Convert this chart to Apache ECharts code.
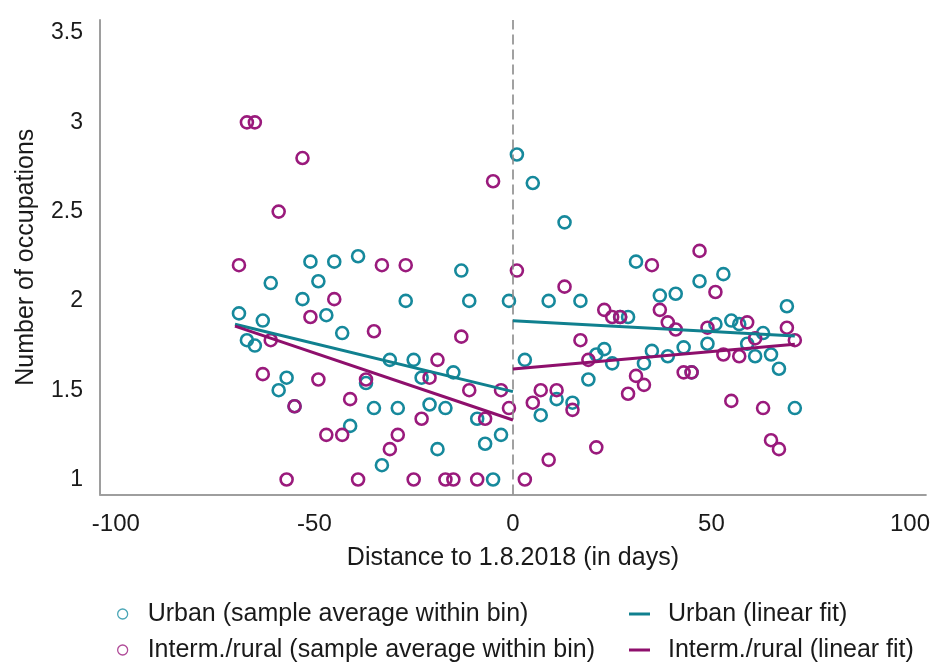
<!DOCTYPE html>
<html>
<head>
<meta charset="utf-8">
<title>Number of occupations around 1.8.2018</title>
<script src="https://cdn.jsdelivr.net/npm/echarts@6/dist/echarts.min.js"></script>
<style>
  html, body { margin: 0; padding: 0; background: #ffffff; }
  #chart { width: 933px; height: 664px; }
</style>
</head>
<body>
<div id="chart"></div>
<script>
// Bin centres (days relative to 1.8.2018)
const daysBefore = [-69, -67, -65, -63, -61, -59, -57, -55, -53, -51, -49, -47, -45, -43, -41, -39, -37, -35,
                    -33, -31, -29, -27, -25, -23, -21, -19, -17, -15, -13, -11, -9, -7, -5, -3, -1];
const daysAfter = [1, 3, 5, 7, 9, 11, 13, 15, 17, 19, 21, 23, 25, 27, 29, 31, 33, 35,
                   37, 39, 41, 43, 45, 47, 49, 51, 53, 55, 57, 59, 61, 63, 65, 67, 69, 71];

// Sample averages within bin, urban
const urbanBefore = [1.93, 1.78, 1.75, 1.89, 2.10, 1.50, 1.57, 1.41, 2.01, 2.22, 2.11, 1.92, 2.22, 1.82, 1.30, 2.25, 1.54, 1.40,
                     1.08, 1.67, 1.40, 2.00, 1.67, 1.57, 1.42, 1.17, 1.40, 1.60, 2.17, 2.00, 1.34, 1.20, 1.00, 1.25, 2.00];
const urbanAfter = [2.82, 1.67, 2.66, 1.36, 2.00, 1.45, 2.44, 1.43, 2.00, 1.56, 1.70, 1.73, 1.65, 1.91, 1.91, 2.22, 1.65, 1.72,
                    2.03, 1.69, 2.04, 1.74, 1.60, 2.11, 1.76, 1.87, 2.15, 1.89, 1.87, 1.76, 1.69, 1.82, 1.70, 1.62, 1.97, 1.40];

// Sample averages within bin, intermediate / rural
const ruralBefore = [2.20, 3.00, 3.00, 1.59, 1.78, 2.50, 1.00, 1.41, 2.80, 1.91, 1.56, 1.25, 2.01, 1.25, 1.45, 1.00, 1.56, 1.83,
                     2.20, 1.17, 1.25, 2.20, 1.00, 1.34, 1.57, 1.67, 1.00, 1.00, 1.80, 1.50, 1.00, 1.34, 2.67, 1.50, 1.40];
const ruralAfter = [2.17, 1.00, 1.43, 1.50, 1.11, 1.50, 2.08, 1.39, 1.78, 1.67, 1.18, 1.95, 1.91, 1.91, 1.48, 1.58, 1.53, 2.20,
                    1.95, 1.88, 1.84, 1.60, 1.60, 2.28, 1.85, 2.05, 1.70, 1.44, 1.69, 1.88, 1.79, 1.40, 1.22, 1.17, 1.85, 1.78];

// Linear fits on each side of the cut-off: end points [day, value]
const fitDaysBefore = [-70, 0];
const fitDaysAfter = [0, 71];
const urbanFitBefore = [1.869, 1.492];
const urbanFitAfter = [1.889, 1.803];
const ruralFitBefore = [1.859, 1.333];
const ruralFitAfter = [1.619, 1.757];

// Axis tick labels
const xTicks = [-100, -50, 0, 50, 100];
const yTicks = [1, 1.5, 2, 2.5, 3, 3.5];

const NAME_URBAN_PTS = 'Urban (sample average within bin)';
const NAME_RURAL_PTS = 'Interm./rural (sample average within bin)';
const NAME_URBAN_FIT = 'Urban (linear fit)';
const NAME_RURAL_FIT = 'Interm./rural (linear fit)';

const TEAL = '#16899c';
const TEAL_LINE = '#10808f';
const PURPLE = '#9a1a7c';
const PURPLE_LINE = '#8e0f6c';
const FONT = "'Liberation Sans', Arial, sans-serif";
const TEXT = '#1a1a1a';

const zip = (xs, ys) => xs.map((x, i) => [x, ys[i]]);

// hollow markers: white fill, coloured ring
const scatterSeries = (name, color, data, z) => ({
  name: name,
  type: 'scatter',
  data: data,
  z: z,
  symbol: 'circle',
  symbolSize: 12,
  itemStyle: { color: 'rgba(255,255,255,0)', borderColor: color, borderWidth: 2.6, opacity: 1 },
  emphasis: { disabled: true }
});

const fitLine = (name, color, data) => ({
  name: name,
  type: 'line',
  data: data,
  symbol: 'none',
  lineStyle: { color: color, width: 3 },
  itemStyle: { color: color },
  z: 5,
  silent: true
});

const chart = echarts.init(document.getElementById('chart'), null, { renderer: 'canvas' });

chart.setOption({
  animation: false,
  backgroundColor: '#ffffff',
  textStyle: { fontFamily: FONT },
  grid: { left: 100, right: 5, top: 20, bottom: 169.5, containLabel: false },
  xAxis: {
    type: 'value',
    min: -104,
    max: 104,
    name: 'Distance to 1.8.2018 (in days)',
    nameLocation: 'middle',
    nameGap: 51,
    nameTextStyle: { fontFamily: FONT, fontSize: 25, color: TEXT },
    axisLine: { show: true, onZero: false, lineStyle: { color: '#9e9e9e', width: 2 } },
    axisTick: { show: false },
    splitLine: { show: false },
    axisLabel: {
      customValues: xTicks,
      fontFamily: FONT, fontSize: 24, color: TEXT, margin: 18
    }
  },
  yAxis: {
    type: 'value',
    min: 0.916,
    max: 3.573,
    name: 'Number of occupations',
    nameLocation: 'middle',
    nameGap: 61,
    nameTextStyle: { fontFamily: FONT, fontSize: 25, color: TEXT },
    axisLine: { show: true, onZero: false, lineStyle: { color: '#9e9e9e', width: 2 } },
    axisTick: { show: false },
    splitLine: { show: false },
    axisLabel: {
      customValues: yTicks,
      fontFamily: FONT, fontSize: 23, color: TEXT, margin: 17
    }
  },
  legend: [
    {
      orient: 'vertical',
      left: 117,
      top: 601,
      itemWidth: 10,
      itemHeight: 10,
      itemGap: 10,
      padding: 0,
      textStyle: { fontFamily: FONT, fontSize: 25, color: TEXT, lineHeight: 26, padding: [0, 0, 0, 15] },
      selectedMode: false,
      data: [
        { name: NAME_URBAN_PTS, icon: 'circle', itemStyle: { color: 'rgba(255,255,255,0)', borderColor: '#4aa6b6', borderWidth: 1.3 } },
        { name: NAME_RURAL_PTS, icon: 'circle', itemStyle: { color: 'rgba(255,255,255,0)', borderColor: '#b04b98', borderWidth: 1.3 } }
      ]
    },
    {
      orient: 'vertical',
      left: 629,
      top: 601,
      itemWidth: 21,
      itemHeight: 3,
      itemGap: 10,
      padding: 0,
      textStyle: { fontFamily: FONT, fontSize: 25, color: TEXT, lineHeight: 26, padding: [0, 0, 0, 13] },
      selectedMode: false,
      data: [
        { name: NAME_URBAN_FIT, icon: 'rect' },
        { name: NAME_RURAL_FIT, icon: 'rect' }
      ]
    }
  ],
  series: [
    scatterSeries(NAME_URBAN_PTS, TEAL, zip(daysBefore, urbanBefore).concat(zip(daysAfter, urbanAfter)), 2),
    scatterSeries(NAME_RURAL_PTS, PURPLE, zip(daysBefore, ruralBefore).concat(zip(daysAfter, ruralAfter)), 3),
    fitLine(NAME_URBAN_FIT, TEAL_LINE, zip(fitDaysBefore, urbanFitBefore)),
    fitLine(NAME_URBAN_FIT, TEAL_LINE, zip(fitDaysAfter, urbanFitAfter)),
    fitLine(NAME_RURAL_FIT, PURPLE_LINE, zip(fitDaysBefore, ruralFitBefore)),
    fitLine(NAME_RURAL_FIT, PURPLE_LINE, zip(fitDaysAfter, ruralFitAfter)),
    {
      // dashed reference line at the cut-off date
      name: 'cutoff',
      type: 'line',
      data: [],
      silent: true,
      markLine: {
        silent: true,
        symbol: 'none',
        label: { show: false },
        lineStyle: { color: '#8a8a8a', type: [10, 5], width: 1.6 },
        data: [{ xAxis: 0 }]
      }
    }
  ]
});
</script>
</body>
</html>
